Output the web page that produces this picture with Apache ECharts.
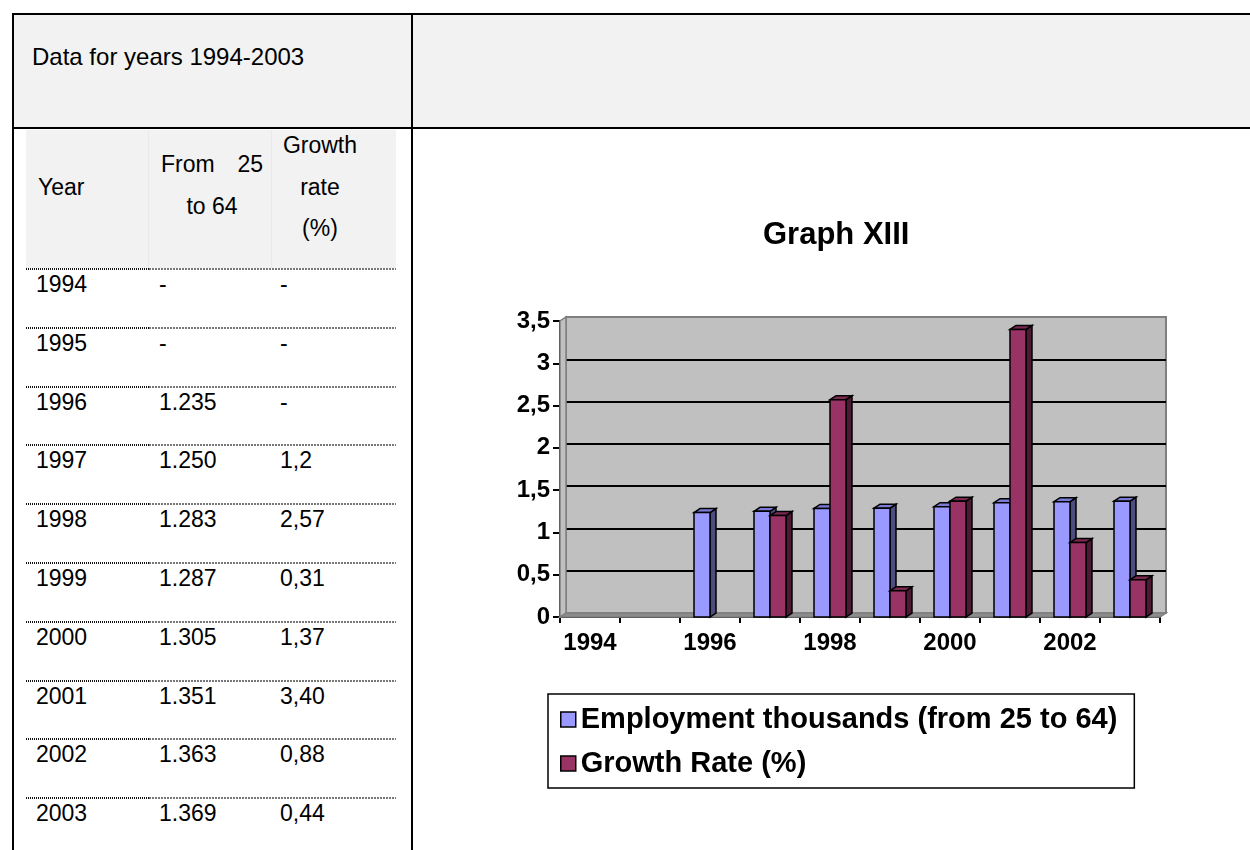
<!DOCTYPE html>
<html>
<head>
<meta charset="utf-8">
<script src="https://cdn.jsdelivr.net/npm/echarts@6/dist/echarts.min.js"></script>
<style>
  body { margin: 0; background: #fff; font-family: "Liberation Sans", Arial, sans-serif; color: #000; }
  #page { position: absolute; left: 0; top: 0; width: 1250px; height: 850px; overflow: hidden; }
  .t { position: absolute; white-space: nowrap; }
  #chart { position: absolute; left: 0; top: 0; width: 1250px; height: 850px; }
</style>
</head>
<body>
<div id="page"></div>
<div id="chart"></div>
<script>
// ---------------- data ----------------
const tableTitle = 'Data for years 1994-2003';
const headerYear = 'Year';
const headerEmployment = ['From 25', 'to 64'];
const headerGrowth = ['Growth', 'rate', '(%)'];
const years = ['1994', '1995', '1996', '1997', '1998', '1999', '2000', '2001', '2002', '2003'];
const employmentLabels = ['-', '-', '1.235', '1.250', '1.283', '1.287', '1.305', '1.351', '1.363', '1.369'];
const growthLabels = ['-', '-', '-', '1,2', '2,57', '0,31', '1,37', '3,40', '0,88', '0,44'];
const employment = [null, null, 1.235, 1.250, 1.283, 1.287, 1.305, 1.351, 1.363, 1.369];
const growth = [null, null, null, 1.2, 2.57, 0.31, 1.37, 3.40, 0.88, 0.44];
const chartTitle = 'Graph XIII';
const seriesNames = ['Employment thousands (from 25 to 64)', 'Growth Rate (%)'];

// ---------------- table (HTML) ----------------
const page = document.getElementById('page');
function box(l, t, w, h, style) {
  const d = document.createElement('div');
  d.style.position = 'absolute';
  d.style.left = l + 'px'; d.style.top = t + 'px';
  d.style.width = w + 'px'; d.style.height = h + 'px';
  Object.assign(d.style, style || {});
  page.appendChild(d);
  return d;
}
function text(str, x, baseline, fs, align, width) {
  const d = document.createElement('div');
  d.className = 't';
  d.textContent = str;
  d.style.fontSize = fs + 'px';
  d.style.lineHeight = fs + 'px';
  d.style.top = (baseline - 0.8465 * fs) + 'px';
  if (align === 'center') {
    d.style.left = (x - 100) + 'px'; d.style.width = '200px'; d.style.textAlign = 'center';
  } else if (align === 'justify') {
    d.style.left = x + 'px'; d.style.width = width + 'px';
    d.style.textAlign = 'justify'; d.style.textAlignLast = 'justify';
  } else {
    d.style.left = x + 'px';
  }
  page.appendChild(d);
  return d;
}
// backgrounds
box(14, 15, 1236, 113, { background: '#f2f2f2' });
box(26, 130, 370, 138, { background: '#f2f2f2' });
box(148, 130, 1, 138, { background: '#e9e9e9' });
box(271, 130, 1, 138, { background: '#e9e9e9' });
// outer borders
box(12, 13, 1238, 2, { background: '#000' });
box(12, 127, 1238, 2, { background: '#000' });
box(12, 13, 2, 837, { background: '#000' });
box(411, 13, 2, 837, { background: '#000' });

text(tableTitle, 32, 65, 24);
text(headerYear, 38, 195, 23);
text(headerEmployment[0], 161, 172, 23, 'justify', 102);
text(headerEmployment[1], 212, 214, 23, 'center');
text(headerGrowth[0], 320, 153, 23, 'center');
text(headerGrowth[1], 320, 195, 23, 'center');
text(headerGrowth[2], 320, 236, 23, 'center');

const rowTop = 268, rowH = 58.8;
years.forEach((y, i) => {
  const ly = Math.round(rowTop + rowH * i);
  box(26, ly, 123, 2, { backgroundImage: 'repeating-linear-gradient(90deg,#111 0 1px,#fff 1px 2px)' });
  box(149, ly, 247, 2, { backgroundImage: 'repeating-linear-gradient(90deg,#777 0 2px,#fff 2px 3px)' });
  const bl = rowTop + rowH * i + 24.5;
  text(y, 36, bl, 23);
  text(employmentLabels[i], 159, bl, 23);
  text(growthLabels[i], 280, bl, 23);
});

// ---------------- chart ----------------
const chart = echarts.init(document.getElementById('chart'));
const DX = 6, DY = 4;
const colors = [
  { front: '#9999ff', top: '#7b7bd6', side: '#4d4d80' },
  { front: '#993366', top: '#7a2951', side: '#4d1a33' }
];

function wallSeries() {
  return {
    type: 'custom', silent: true, xAxisIndex: 0, yAxisIndex: 0, z: 1,
    data: [[0, 0]],
    renderItem(params) {
      const c = params.coordSys;
      const x0 = c.x, y0 = c.y, w = c.width, h = c.height;
      return {
        type: 'group',
        children: [
          { type: 'polygon', shape: { points: [[x0, y0], [x0, y0 + h], [x0 - DX, y0 + h + DY], [x0 - DX, y0 + DY]] },
            style: { fill: '#c0c0c0', stroke: '#808080', lineWidth: 1.5 } },
          { type: 'polygon', shape: { points: [[x0, y0 + h], [x0 + w, y0 + h], [x0 + w - DX, y0 + h + DY], [x0 - DX, y0 + h + DY]] },
            style: { fill: '#8c8c8c', stroke: '#808080', lineWidth: 1.5 } }
        ]
      };
    }
  };
}

function barSeries(k, values) {
  const col = colors[k];
  return {
    type: 'custom', name: seriesNames[k], xAxisIndex: 1, yAxisIndex: 1, z: 3 + k,
    itemStyle: { color: col.front, borderColor: '#000', borderWidth: 1.5 },
    encode: { x: 0, y: 1 },
    data: values.map((v, i) => [i, v == null ? '-' : v]),
    renderItem(params, api) {
      const v = api.value(1);
      if (v == null || isNaN(v)) return;
      const i = api.value(0);
      const base = api.coord([i, 0]);
      const top = api.coord([i, v]);
      const cw = api.size([1, 0])[0];
      const bw = cw * 16 / 60;
      const x0 = base[0] - bw + k * bw;
      const x1 = x0 + bw;
      const yt = top[1], yb = base[1];
      const st = { stroke: '#000', lineWidth: 1.5, lineJoin: 'miter' };
      return {
        type: 'group',
        children: [
          { type: 'polygon', shape: { points: [[x1, yt], [x1 + DX, yt - DY], [x1 + DX, yb - DY], [x1, yb]] },
            style: Object.assign({ fill: col.side }, st) },
          { type: 'polygon', shape: { points: [[x0, yt], [x0 + DX, yt - DY], [x1 + DX, yt - DY], [x1, yt]] },
            style: Object.assign({ fill: col.top }, st) },
          { type: 'rect', shape: { x: x0, y: yt, width: bw, height: yb - yt },
            style: Object.assign({ fill: col.front }, st) }
        ]
      };
    }
  };
}

const AXL = 560, AXT = 321, AXW = 600, AXH = 296;
const option = {
  animation: false,
  textStyle: { fontFamily: '"Liberation Sans", Arial, sans-serif' },
  title: {
    text: chartTitle, left: 763, top: 220, padding: 0,
    textStyle: { fontSize: 31, fontWeight: 'bold', color: '#000' }
  },
  legend: {
    orient: 'vertical', left: 548, top: 694,
    padding: [11, 17, 10, 12], itemGap: 15, itemWidth: 15, itemHeight: 15,
    icon: 'rect', borderColor: '#000', borderWidth: 1.5, backgroundColor: '#fff',
    itemStyle: { borderColor: '#000', borderWidth: 1.5 },
    textStyle: { fontSize: 29, fontWeight: 'bold', color: '#000' },
    data: seriesNames
  },
  grid: [
    { left: AXL + DX, top: AXT - DY, width: AXW, height: AXH, show: true,
      backgroundColor: '#c0c0c0', borderColor: '#808080', borderWidth: 2 },
    { left: AXL, top: AXT, width: AXW, height: AXH }
  ],
  xAxis: [
    { gridIndex: 0, type: 'category', data: years, show: false },
    { gridIndex: 1, type: 'category', data: years, boundaryGap: true,
      axisLine: { lineStyle: { color: '#000', width: 2 } },
      axisTick: { show: true, interval: 0, length: 6, lineStyle: { color: '#000', width: 2 } },
      axisLabel: { interval: 1, fontSize: 24, fontWeight: 'bold', color: '#000', margin: 14 } }
  ],
  yAxis: [
    { gridIndex: 0, type: 'value', min: 0, max: 3.5, interval: 0.5,
      axisLine: { show: false }, axisTick: { show: false }, axisLabel: { show: false },
      splitLine: { show: true, showMinLine: false, showMaxLine: false, lineStyle: { color: '#000', width: 2 } } },
    { gridIndex: 1, type: 'value', min: 0, max: 3.5, interval: 0.5,
      axisLine: { show: true, lineStyle: { color: '#000', width: 2 } },
      axisTick: { show: true, length: 7, lineStyle: { color: '#000', width: 2 } },
      axisLabel: { fontSize: 24, fontWeight: 'bold', color: '#000', margin: 10,
        formatter: v => String(v).replace('.', ',') },
      splitLine: { show: false } }
  ],
  series: [wallSeries(), barSeries(0, employment), barSeries(1, growth)]
};
chart.setOption(option);
</script>
</body>
</html>
